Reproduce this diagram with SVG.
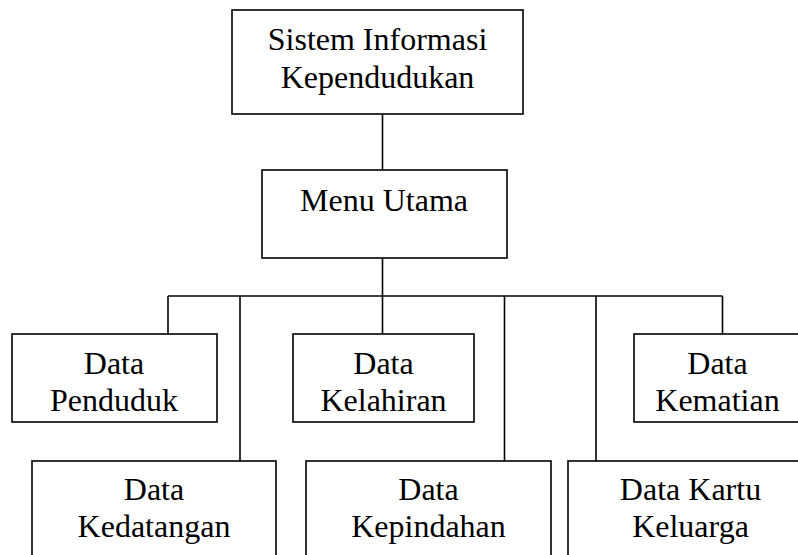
<svg xmlns="http://www.w3.org/2000/svg" width="798" height="555" viewBox="0 0 798 555">
  <style>
    .box { fill: #ffffff; stroke: #000000; stroke-width: 1.6; }
    .wire { fill: none; stroke: #000000; stroke-width: 1.6; }
    .label { font-family: "Liberation Serif", "Times New Roman", serif; font-size: 32px; fill: #000000; text-anchor: middle; }
  </style>
  <rect width="798" height="555" fill="#ffffff"/>

  <!-- connectors -->
  <g id="connectors">
    <path class="wire" d="M382.5 114 V170"/>
    <path class="wire" d="M382.5 258 V296"/>
    <path class="wire" d="M168 296 H722.5"/>
    <path class="wire" d="M168 296 V334"/>
    <path class="wire" d="M240 296 V461"/>
    <path class="wire" d="M382.5 296 V334"/>
    <path class="wire" d="M504.5 296 V461"/>
    <path class="wire" d="M596 296 V461"/>
    <path class="wire" d="M722.5 296 V334"/>
  </g>

  <g id="sistem-informasi">
    <rect class="box" x="232" y="10" width="291" height="104"/>
    <text class="label" x="377.5" y="50">Sistem Informasi</text>
    <text class="label" x="377.5" y="88">Kependudukan</text>
  </g>

  <g id="menu-utama">
    <rect class="box" x="262" y="170" width="245" height="88"/>
    <text class="label" x="384" y="211">Menu Utama</text>
  </g>

  <g id="data-penduduk">
    <rect class="box" x="12" y="334" width="205" height="88"/>
    <text class="label" x="114" y="374">Data</text>
    <text class="label" x="114" y="411">Penduduk</text>
  </g>

  <g id="data-kelahiran">
    <rect class="box" x="293" y="334" width="181" height="88"/>
    <text class="label" x="383.5" y="374">Data</text>
    <text class="label" x="383.5" y="411">Kelahiran</text>
  </g>

  <g id="data-kematian">
    <rect class="box" x="634" y="334" width="168" height="88"/>
    <text class="label" x="717.5" y="374">Data</text>
    <text class="label" x="717.5" y="411">Kematian</text>
  </g>

  <g id="data-kedatangan">
    <rect class="box" x="32" y="461" width="244" height="110"/>
    <text class="label" x="154" y="500">Data</text>
    <text class="label" x="154" y="537">Kedatangan</text>
  </g>

  <g id="data-kepindahan">
    <rect class="box" x="306" y="461" width="245" height="110"/>
    <text class="label" x="428.5" y="500">Data</text>
    <text class="label" x="428.5" y="537">Kepindahan</text>
  </g>

  <g id="data-kartu-keluarga">
    <rect class="box" x="568" y="461" width="246" height="110"/>
    <text class="label" x="690.5" y="500">Data Kartu</text>
    <text class="label" x="690.5" y="537">Keluarga</text>
  </g>
</svg>
